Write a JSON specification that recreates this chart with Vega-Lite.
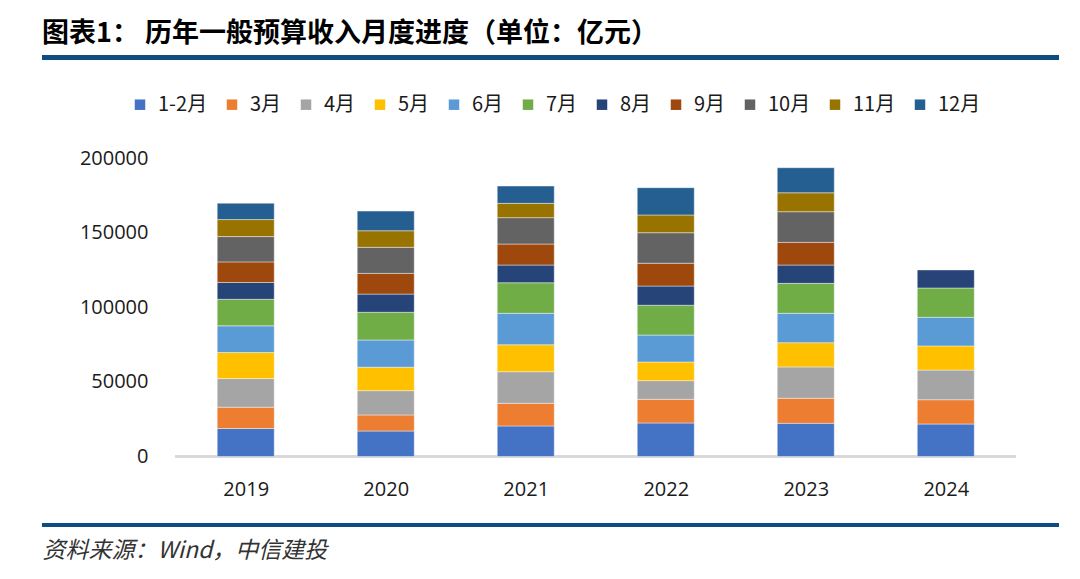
{
  "$schema": "https://vega.github.io/schema/vega-lite/v6.json",
  "background": "white",
  "autosize": {"type": "none"},
  "padding": {"left": 42, "top": 57.7, "right": 21, "bottom": 54},
  "width": 1017,
  "height": 467.3,
  "config": {"view": {"stroke": null}},
  "title": {
    "text": "图表1：   历年一般预算收入月度进度（单位：亿元）",
    "anchor": "start",
    "frame": "group",
    "baseline": "bottom",
    "offset": -20,
    "font": "Noto Sans CJK SC",
    "fontSize": 27,
    "fontWeight": "bold",
    "color": "#000000"
  },
  "data": {
    "values": [
      {"year": 2019, "month": "1-2月", "idx": 1, "value": 18800},
      {"year": 2019, "month": "3月", "idx": 2, "value": 14300},
      {"year": 2019, "month": "4月", "idx": 3, "value": 19200},
      {"year": 2019, "month": "5月", "idx": 4, "value": 17500},
      {"year": 2019, "month": "6月", "idx": 5, "value": 17900},
      {"year": 2019, "month": "7月", "idx": 6, "value": 17800},
      {"year": 2019, "month": "8月", "idx": 7, "value": 11300},
      {"year": 2019, "month": "9月", "idx": 8, "value": 13800},
      {"year": 2019, "month": "10月", "idx": 9, "value": 17000},
      {"year": 2019, "month": "11月", "idx": 10, "value": 11400},
      {"year": 2019, "month": "12月", "idx": 11, "value": 11000},
      {"year": 2020, "month": "1-2月", "idx": 1, "value": 17100},
      {"year": 2020, "month": "3月", "idx": 2, "value": 10800},
      {"year": 2020, "month": "4月", "idx": 3, "value": 16300},
      {"year": 2020, "month": "5月", "idx": 4, "value": 15700},
      {"year": 2020, "month": "6月", "idx": 5, "value": 18300},
      {"year": 2020, "month": "7月", "idx": 6, "value": 18600},
      {"year": 2020, "month": "8月", "idx": 7, "value": 12200},
      {"year": 2020, "month": "9月", "idx": 8, "value": 13900},
      {"year": 2020, "month": "10月", "idx": 9, "value": 17500},
      {"year": 2020, "month": "11月", "idx": 10, "value": 11100},
      {"year": 2020, "month": "12月", "idx": 11, "value": 13200},
      {"year": 2021, "month": "1-2月", "idx": 1, "value": 20500},
      {"year": 2021, "month": "3月", "idx": 2, "value": 15200},
      {"year": 2021, "month": "4月", "idx": 3, "value": 21200},
      {"year": 2021, "month": "5月", "idx": 4, "value": 18100},
      {"year": 2021, "month": "6月", "idx": 5, "value": 21100},
      {"year": 2021, "month": "7月", "idx": 6, "value": 20500},
      {"year": 2021, "month": "8月", "idx": 7, "value": 11900},
      {"year": 2021, "month": "9月", "idx": 8, "value": 14100},
      {"year": 2021, "month": "10月", "idx": 9, "value": 17700},
      {"year": 2021, "month": "11月", "idx": 10, "value": 9600},
      {"year": 2021, "month": "12月", "idx": 11, "value": 11600},
      {"year": 2022, "month": "1-2月", "idx": 1, "value": 22500},
      {"year": 2022, "month": "3月", "idx": 2, "value": 15900},
      {"year": 2022, "month": "4月", "idx": 3, "value": 12500},
      {"year": 2022, "month": "5月", "idx": 4, "value": 12500},
      {"year": 2022, "month": "6月", "idx": 5, "value": 18100},
      {"year": 2022, "month": "7月", "idx": 6, "value": 20000},
      {"year": 2022, "month": "8月", "idx": 7, "value": 12900},
      {"year": 2022, "month": "9月", "idx": 8, "value": 15300},
      {"year": 2022, "month": "10月", "idx": 9, "value": 20500},
      {"year": 2022, "month": "11月", "idx": 10, "value": 11900},
      {"year": 2022, "month": "12月", "idx": 11, "value": 18300},
      {"year": 2023, "month": "1-2月", "idx": 1, "value": 22300},
      {"year": 2023, "month": "3月", "idx": 2, "value": 16800},
      {"year": 2023, "month": "4月", "idx": 3, "value": 21000},
      {"year": 2023, "month": "5月", "idx": 4, "value": 16300},
      {"year": 2023, "month": "6月", "idx": 5, "value": 19700},
      {"year": 2023, "month": "7月", "idx": 6, "value": 20100},
      {"year": 2023, "month": "8月", "idx": 7, "value": 12300},
      {"year": 2023, "month": "9月", "idx": 8, "value": 15200},
      {"year": 2023, "month": "10月", "idx": 9, "value": 20600},
      {"year": 2023, "month": "11月", "idx": 10, "value": 12700},
      {"year": 2023, "month": "12月", "idx": 11, "value": 16800},
      {"year": 2024, "month": "1-2月", "idx": 1, "value": 21800},
      {"year": 2024, "month": "3月", "idx": 2, "value": 16300},
      {"year": 2024, "month": "4月", "idx": 3, "value": 19900},
      {"year": 2024, "month": "5月", "idx": 4, "value": 16200},
      {"year": 2024, "month": "6月", "idx": 5, "value": 19200},
      {"year": 2024, "month": "7月", "idx": 6, "value": 19700},
      {"year": 2024, "month": "8月", "idx": 7, "value": 12100}
    ]
  },
  "layer": [
    {
      "mark": {"type": "rule", "color": "#0E4D82", "strokeWidth": 4.5},
      "encoding": {"y": {"datum": 267650, "type": "quantitative", "title": null}}
    },
    {
      "mark": {"type": "rule", "color": "#0E4D82", "strokeWidth": 3.3},
      "encoding": {"y": {"datum": -45973, "type": "quantitative", "title": null}}
    },
    {
      "mark": {"type": "rule", "color": "#d9d9d9", "strokeWidth": 2},
      "encoding": {
        "x": {"datum": 2018.5, "type": "quantitative", "title": null},
        "x2": {"datum": 2024.5},
        "y": {"datum": 0, "type": "quantitative", "title": null}
      }
    },
    {
      "mark": {"type": "bar", "width": 57, "stroke": "#ffffff", "strokeWidth": 0.7, "strokeOpacity": 0.6},
      "encoding": {
        "x": {
          "field": "year",
          "type": "quantitative",
          "scale": {"domain": [2017.5806, 2024.773], "nice": false, "zero": false},
          "title": "资料来源：Wind，中信建投",
          "axis": {
            "orient": "bottom",
            "values": [2019, 2020, 2021, 2022, 2023, 2024],
            "format": "d",
            "offset": -46,
            "domain": false,
            "ticks": false,
            "tickSize": 0,
            "grid": false,
            "labelPadding": 0,
            "labelFont": "Open Sans",
            "labelFontSize": 20,
            "labelColor": "#1a1a1a",
            "titleX": 0,
            "titleY": 71,
            "titleAlign": "left",
            "titleAnchor": "start",
            "titleBaseline": "middle",
            "titleFont": "Noto Sans CJK SC",
            "titleFontSize": 23,
            "titleFontStyle": "italic",
            "titleFontWeight": "normal",
            "titleColor": "#333333"
          }
        },
        "y": {
          "field": "value",
          "type": "quantitative",
          "stack": "zero",
          "scale": {"domain": [-45973, 267650], "nice": false, "zero": false},
          "title": null,
          "axis": {
            "values": [0, 50000, 100000, 150000, 200000],
            "format": "d",
            "offset": -106,
            "domain": false,
            "ticks": false,
            "tickSize": 0,
            "grid": false,
            "labelPadding": 0,
            "labelFont": "Open Sans",
            "labelFontSize": 20,
            "labelColor": "#1a1a1a"
          }
        },
        "color": {
          "field": "month",
          "type": "nominal",
          "scale": {
            "domain": ["1-2月", "3月", "4月", "5月", "6月", "7月", "8月", "9月", "10月", "11月", "12月"],
            "range": ["#4472C4", "#ED7D31", "#A5A5A5", "#FFC000", "#5B9BD5", "#70AD47", "#264478", "#9E480E", "#636363", "#997300", "#255E91"]
          },
          "legend": {
            "title": null,
            "orient": "none",
            "direction": "horizontal",
            "columns": 11,
            "legendX": 88,
            "legendY": 37,
            "symbolType": "square",
            "symbolSize": 110,
            "symbolStrokeWidth": 0,
            "symbolOpacity": 1,
            "labelFont": "Noto Sans CJK SC",
            "labelFontSize": 20,
            "labelColor": "#1a1a1a",
            "labelOffset": 8,
            "columnPadding": 14
          }
        },
        "order": {"field": "idx", "type": "quantitative", "sort": "ascending"}
      }
    }
  ]
}
